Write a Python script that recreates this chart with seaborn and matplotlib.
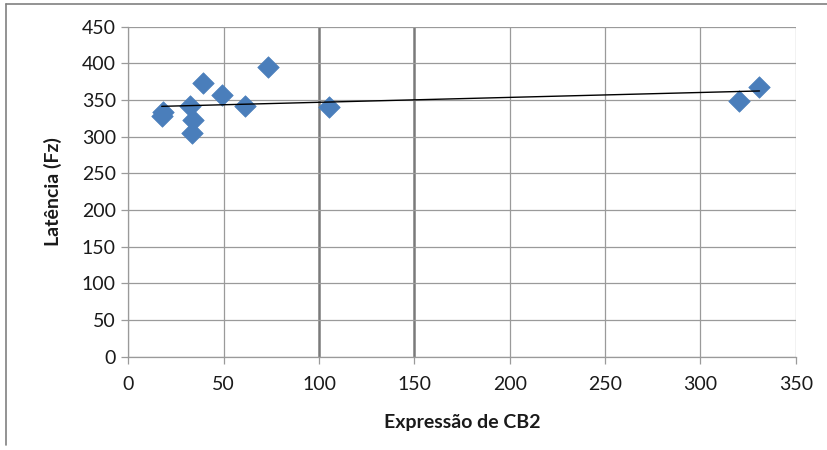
import numpy as np
import pandas as pd
import matplotlib
matplotlib.use("Agg")
import matplotlib.pyplot as plt
from matplotlib import font_manager
import seaborn as sns

# CB2 expression vs. Fz latency
expressao_cb2 = [17.5, 18.2, 32.4, 34.1, 33.6, 39.3, 49.3, 73.1, 61.4, 105.4, 331.0, 320.4]
latencia_fz = [328, 334, 342, 323, 305, 373, 357, 395, 342, 341, 368, 348]

x_ticks = [0, 50, 100, 150, 200, 250, 300, 350]
y_ticks = [0, 50, 100, 150, 200, 250, 300, 350, 400, 450]

x_label = "Expressão de CB2"
y_label = "Latência (Fz)"

df = pd.DataFrame({"cb2": expressao_cb2, "fz": latencia_fz})

sns.set_theme(style="white")
available = {f.name for f in font_manager.fontManager.ttflist}
base_font = "Liberation Sans Narrow" if "Liberation Sans Narrow" in available else "Lato"
plt.rcParams["font.family"] = [base_font, "DejaVu Sans"]

fig = plt.figure(figsize=(8.28, 4.5), dpi=100)
ax = fig.add_axes([0.155, 0.207, 0.806, 0.734])

grid_c = "#9a9a9a"
for v in x_ticks:
    if v in (100, 150):
        ax.axvline(v, color="#7a7a7a", lw=1.8, zorder=0)
    else:
        ax.axvline(v, color=grid_c, lw=0.9, zorder=0)
for v in y_ticks:
    ax.axhline(v, color=grid_c, lw=0.9, zorder=0)

sns.regplot(data=df, x="cb2", y="fz", ax=ax, ci=None, marker="D",
            scatter_kws=dict(s=120, color="#4a7ebb", edgecolors="#4a7ebb",
                             linewidths=0.5, alpha=1.0, zorder=3),
            line_kws=dict(color="black", lw=1.0, zorder=4))

ax.set_xlim(0, 350)
ax.set_ylim(0, 450)
ax.set_xticks(x_ticks)
ax.set_yticks(y_ticks)
ax.tick_params(axis="both", which="major", labelsize=14, length=5, width=0.9,
               color=grid_c, labelcolor="#1a1a1a", direction="out")
ax.tick_params(axis="x", pad=9)
ax.tick_params(axis="y", pad=4)
ax.xaxis.set_ticks_position("bottom")
ax.yaxis.set_ticks_position("left")

for side in ("top", "right"):
    ax.spines[side].set_visible(False)
for side in ("left", "bottom"):
    ax.spines[side].set_color(grid_c)
    ax.spines[side].set_linewidth(0.9)

ax.set_xlabel(x_label, fontsize=14, fontweight="bold", color="#1a1a1a", labelpad=15)
ax.set_ylabel(y_label, fontsize=14, fontweight="bold", color="#1a1a1a", labelpad=14)

# Outer chart frame (left and top edges)
fig.add_artist(plt.Line2D([6 / 828, 6 / 828], [1 - 445 / 450, 1 - 4 / 450],
                          transform=fig.transFigure, color="#808080", lw=1.2))
fig.add_artist(plt.Line2D([6 / 828, 1.0], [1 - 4 / 450, 1 - 4 / 450],
                          transform=fig.transFigure, color="#808080", lw=1.2))

fig.savefig("out.png", dpi=100)
